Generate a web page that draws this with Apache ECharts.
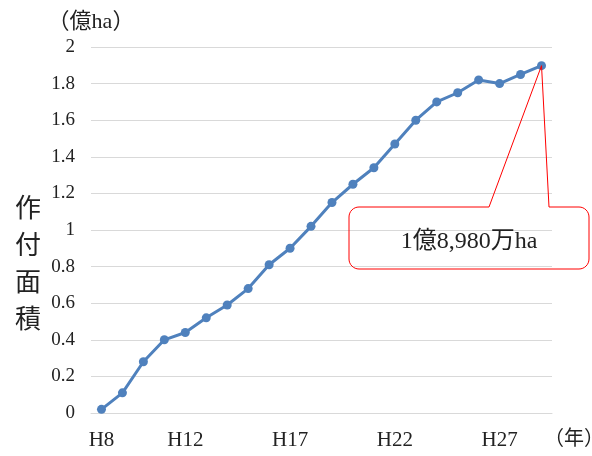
<!DOCTYPE html>
<html>
<head>
<meta charset="utf-8">
<script src="https://cdn.jsdelivr.net/npm/echarts@6/dist/echarts.min.js"></script>
<style>
html,body{margin:0;padding:0;background:#fff;}
#main{width:592px;height:456px;}
</style>
</head>
<body>
<div id="main"></div>
<script>
const categories = ['H8','H9','H10','H11','H12','H13','H14','H15','H16','H17','H18','H19','H20','H21','H22','H23','H24','H25','H26','H27','H28','H29'];
const areaValues = [0.02,0.11,0.28,0.40,0.44,0.52,0.59,0.68,0.81,0.90,1.02,1.15,1.25,1.34,1.47,1.60,1.70,1.75,1.82,1.80,1.85,1.898];
const shownTicks = ['H8','H12','H17','H22','H27'];
const calloutText = '1億8,980万ha';
const yTitle = '作付面積';

const FONT = "'Liberation Serif', 'Noto Sans CJK JP', serif";
const chart = echarts.init(document.getElementById('main'), null, {renderer:'canvas'});
const option = {
  animation: false,
  backgroundColor: '#fff',
  title: {
    text: yTitle.split('').join('\n'),
    left: 10, top: 184,
    textStyle: {fontFamily: "'Noto Sans CJK JP', sans-serif", fontSize: 26, fontWeight: 'normal', color: '#222', lineHeight: 37}
  },
  grid: {left: 91, right: 40, top: 47, bottom: 43, outerBoundsMode: 'none', containLabel: false},
  xAxis: {
    type: 'category',
    data: categories,
    boundaryGap: true,
    name: '（年）',
    nameLocation: 'end',
    nameGap: -8,
    nameTextStyle: {fontFamily: FONT, fontSize: 20, color: '#222', align: 'left', verticalAlign: 'top', padding: [17, 0, 0, 0]},
    axisLine: {show: true, lineStyle: {color: '#d9d9d9', width: 1}},
    axisTick: {show: false},
    axisLabel: {
      interval: function (idx, val) { return shownTicks.indexOf(val) >= 0; },
      margin: 17,
      fontFamily: FONT, fontSize: 21, color: '#222'
    },
    splitLine: {show: false}
  },
  yAxis: {
    type: 'value',
    min: 0, max: 2, interval: 0.2,
    name: '（億ha）',
    nameLocation: 'end',
    nameGap: 14,
    nameTextStyle: {fontFamily: FONT, fontSize: 22, color: '#222', align: 'center'},
    axisLine: {show: false},
    axisTick: {show: false},
    axisLabel: {margin: 16, fontFamily: FONT, fontSize: 19, color: '#222'},
    splitLine: {show: true, lineStyle: {color: '#d9d9d9', width: 1}}
  },
  series: [{
    type: 'line',
    data: areaValues,
    symbol: 'circle',
    symbolSize: 9,
    lineStyle: {color: '#4f81bd', width: 3},
    itemStyle: {color: '#4f81bd'}
  }]
};
chart.setOption(option);

const last = areaValues.length - 1;
const tip = chart.convertToPixel({seriesIndex: 0}, [last, areaValues[last]]);
const x1 = 349, x2 = 589, y1 = 207, y2 = 269, r = 10, n1 = 489, n2 = 549;
function arc(cx, cy, a0, a1) {
  const pts = [];
  for (let i = 0; i <= 8; i++) {
    const a = a0 + (a1 - a0) * i / 8;
    pts.push([cx + r * Math.cos(a), cy + r * Math.sin(a)]);
  }
  return pts;
}
const P = Math.PI;
let pts = [[x1 + r, y1], [n1, y1], [tip[0], tip[1]], [n2, y1], [x2 - r, y1]];
pts = pts.concat(arc(x2 - r, y1 + r, -P / 2, 0));
pts.push([x2, y2 - r]);
pts = pts.concat(arc(x2 - r, y2 - r, 0, P / 2));
pts.push([x1 + r, y2]);
pts = pts.concat(arc(x1 + r, y2 - r, P / 2, P));
pts.push([x1, y1 + r]);
pts = pts.concat(arc(x1 + r, y1 + r, P, 1.5 * P));
chart.setOption({
  graphic: [
    {type: 'polyline', shape: {points: pts}, style: {fill: null, stroke: '#ff0000', lineWidth: 1}, z: 100},
    {type: 'text', x: 469, y: 242, style: {text: calloutText, fontFamily: FONT, fontSize: 24, fill: '#222', align: 'center', verticalAlign: 'middle'}, z: 101}
  ]
});
</script>
</body>
</html>
